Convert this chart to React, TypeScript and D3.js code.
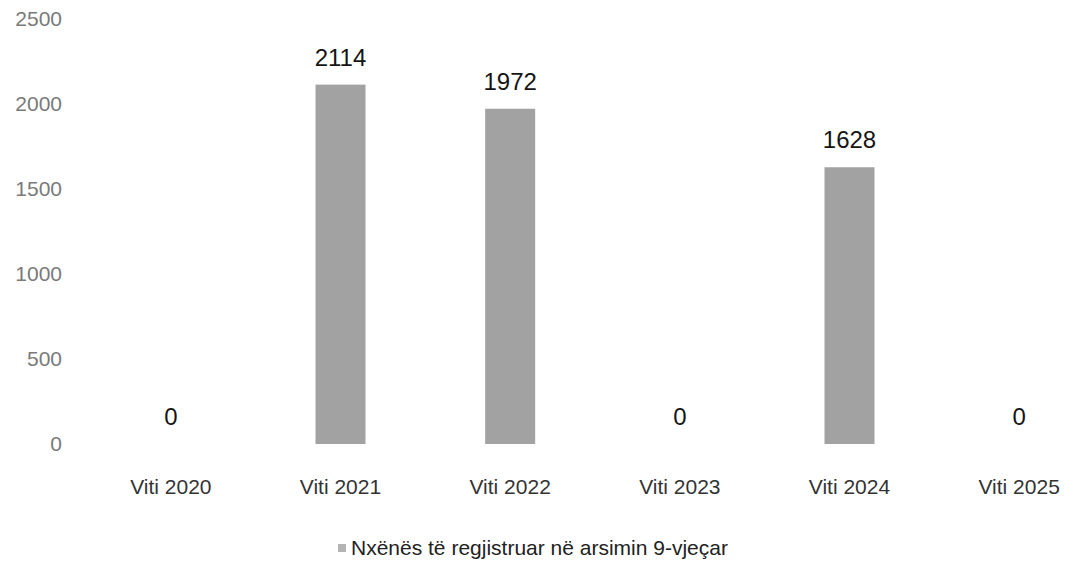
import React, { useRef, useEffect } from 'react';
import * as d3 from 'd3';

// data
const categories = ['Viti 2020', 'Viti 2021', 'Viti 2022', 'Viti 2023', 'Viti 2024', 'Viti 2025'];
const values = [0, 2114, 1972, 0, 1628, 0];
const yTicks = [0, 500, 1000, 1500, 2000, 2500];
const seriesName = 'Nxënës të regjistruar në arsimin 9-vjeçar';

const W = 1071;
const H = 563;

const App = () => {
  const svgRef = useRef<SVGSVGElement>(null);

  useEffect(() => {
    const svg = d3.select(svgRef.current);
    svg.selectAll('*').remove();

    const font = '"Liberation Sans", Arial, sans-serif';

    // scales
    const x = d3.scalePoint<string>()
      .domain(categories)
      .range([86, 1104])
      .padding(0.5);
    const y = d3.scaleLinear().domain([0, 2500]).range([444, 19]);
    const barW = 50;

    svg.append('rect').attr('width', W).attr('height', H).attr('fill', '#fff');

    // y axis labels (no axis line)
    svg.selectAll('.ytick')
      .data(yTicks)
      .enter()
      .append('text')
      .attr('class', 'ytick')
      .attr('x', 62)
      .attr('y', d => y(d))
      .attr('dy', '0.35em')
      .attr('text-anchor', 'end')
      .style('font-family', font)
      .style('font-size', '21px')
      .style('fill', '#7a7a7a')
      .text(d => d);

    // bars
    svg.selectAll('.bar')
      .data(values)
      .enter()
      .append('rect')
      .attr('class', 'bar')
      .attr('x', (d, i) => (x(categories[i]) as number) - barW / 2)
      .attr('y', d => y(d))
      .attr('width', barW)
      .attr('height', d => y(0) - y(d))
      .attr('fill', '#a2a2a2');

    // value labels
    svg.selectAll('.vlabel')
      .data(values)
      .enter()
      .append('text')
      .attr('class', 'vlabel')
      .attr('x', (d, i) => x(categories[i]) as number)
      .attr('y', d => y(d) - 19)
      .attr('text-anchor', 'middle')
      .style('font-family', font)
      .style('font-size', '24px')
      .style('fill', '#151515')
      .text(d => d);

    // category labels
    svg.selectAll('.xlabel')
      .data(categories)
      .enter()
      .append('text')
      .attr('class', 'xlabel')
      .attr('x', d => x(d) as number)
      .attr('y', 494)
      .attr('text-anchor', 'middle')
      .style('font-family', font)
      .style('font-size', '21px')
      .style('fill', '#333')
      .text(d => d);

    // legend
    const legend = svg.append('g').attr('transform', 'translate(338, 548)');
    legend.append('rect')
      .attr('x', 0)
      .attr('y', -4)
      .attr('width', 8)
      .attr('height', 8)
      .attr('fill', '#b4b4b4');
    legend.append('text')
      .attr('x', 13)
      .attr('y', 0)
      .attr('dy', '0.35em')
      .style('font-family', font)
      .style('font-size', '21px')
      .style('fill', '#222')
      .text(seriesName);
  }, []);

  return (
    <svg
      ref={svgRef}
      width={W}
      height={H}
      style={{ position: 'absolute', left: 0, top: 0, display: 'block' }}
    />
  );
};

export default App;
